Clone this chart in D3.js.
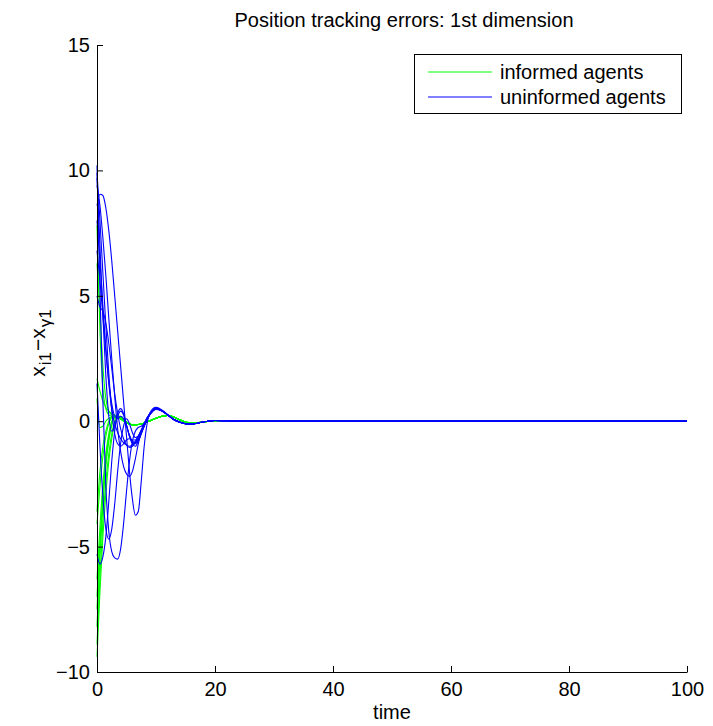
<!DOCTYPE html>
<html>
<head>
<meta charset="utf-8">
<script src="https://cdn.jsdelivr.net/npm/d3@7"></script>
<style>
  body { margin: 0; background: #fff; }
  text { font-family: "Liberation Sans", Arial, Helvetica, sans-serif; fill: #000; }
</style>
</head>
<body>
<svg id="chart" width="713" height="726"></svg>
<script>
// Sample times shared by every agent trajectory
const times = [0, 0.5, 1, 1.5, 2, 2.5, 3, 3.5, 4, 4.5, 5, 5.5, 6, 6.5, 7, 7.5, 8,
               9, 10, 11, 12, 13, 14, 15, 16, 17, 18, 19, 20, 22, 25, 30, 100];

// Tracking error x_i1 - x_gamma1 of informed agents
const informedErrors = [
  [7.8, 3.6, 1.3, 0.5, 0.25, 0.2, 0.18, 0.15, 0.08, 0.0, -0.06, -0.11, -0.14, -0.14, -0.13, -0.11, -0.07, 0.02, 0.12, 0.2, 0.23, 0.17, 0.06, -0.03, -0.07, -0.06, -0.03, 0.0, 0.02, 0.01, 0, 0, 0],
  [6.3, 4.4, 2.2, 0.9, 0.4, 0.25, 0.2, 0.17, 0.1, 0.02, -0.06, -0.11, -0.14, -0.14, -0.13, -0.11, -0.07, 0.02, 0.12, 0.2, 0.23, 0.17, 0.06, -0.03, -0.07, -0.06, -0.03, 0.0, 0.02, 0.01, 0, 0, 0],
  [1.7, 1.2, 0.8, 0.55, 0.4, 0.3, 0.24, 0.17, 0.1, 0.02, -0.06, -0.11, -0.14, -0.14, -0.13, -0.11, -0.07, 0.02, 0.12, 0.2, 0.23, 0.17, 0.06, -0.03, -0.07, -0.06, -0.03, 0.0, 0.02, 0.01, 0, 0, 0],
  [0.9, -0.25, -0.2, 0.0, 0.12, 0.18, 0.2, 0.17, 0.1, 0.02, -0.06, -0.11, -0.14, -0.14, -0.13, -0.11, -0.07, 0.02, 0.12, 0.2, 0.23, 0.17, 0.06, -0.03, -0.07, -0.06, -0.03, 0.0, 0.02, 0.01, 0, 0, 0],
  [-3.6, -2.0, -1.0, -0.4, 0.0, 0.18, 0.24, 0.2, 0.12, 0.03, -0.05, -0.11, -0.14, -0.14, -0.13, -0.11, -0.07, 0.02, 0.12, 0.2, 0.23, 0.17, 0.06, -0.03, -0.07, -0.06, -0.03, 0.0, 0.02, 0.01, 0, 0, 0],
  [-4.1, -2.6, -1.4, -0.6, -0.1, 0.15, 0.22, 0.2, 0.12, 0.03, -0.05, -0.11, -0.14, -0.14, -0.13, -0.11, -0.07, 0.02, 0.12, 0.2, 0.23, 0.17, 0.06, -0.03, -0.07, -0.06, -0.03, 0.0, 0.02, 0.01, 0, 0, 0],
  [-6.3, -4.2, -2.5, -1.3, -0.5, 0.0, 0.2, 0.22, 0.14, 0.04, -0.05, -0.11, -0.14, -0.14, -0.13, -0.11, -0.07, 0.02, 0.12, 0.2, 0.23, 0.17, 0.06, -0.03, -0.07, -0.06, -0.03, 0.0, 0.02, 0.01, 0, 0, 0],
  [-7.0, -4.8, -2.9, -1.5, -0.6, -0.05, 0.18, 0.22, 0.15, 0.05, -0.05, -0.11, -0.14, -0.14, -0.13, -0.11, -0.07, 0.02, 0.12, 0.2, 0.23, 0.17, 0.06, -0.03, -0.07, -0.06, -0.03, 0.0, 0.02, 0.01, 0, 0, 0],
  [-7.5, -5.0, -3.0, -1.6, -0.7, -0.1, 0.17, 0.22, 0.15, 0.05, -0.05, -0.11, -0.14, -0.14, -0.13, -0.11, -0.07, 0.02, 0.12, 0.2, 0.23, 0.17, 0.06, -0.03, -0.07, -0.06, -0.03, 0.0, 0.02, 0.01, 0, 0, 0],
  [-8.2, -5.4, -3.3, -1.8, -0.8, -0.15, 0.15, 0.22, 0.16, 0.06, -0.04, -0.1, -0.14, -0.14, -0.13, -0.11, -0.07, 0.02, 0.12, 0.2, 0.23, 0.17, 0.06, -0.03, -0.07, -0.06, -0.03, 0.0, 0.02, 0.01, 0, 0, 0],
  [-8.9, -6.2, -4.0, -2.4, -1.3, -0.5, 0.0, 0.2, 0.18, 0.08, -0.03, -0.1, -0.14, -0.14, -0.13, -0.11, -0.07, 0.02, 0.12, 0.2, 0.23, 0.17, 0.06, -0.03, -0.07, -0.06, -0.03, 0.0, 0.02, 0.01, 0, 0, 0],
  [-9.4, -6.8, -4.6, -2.9, -1.6, -0.7, -0.1, 0.18, 0.2, 0.1, -0.02, -0.1, -0.14, -0.14, -0.13, -0.11, -0.07, 0.02, 0.12, 0.2, 0.23, 0.17, 0.06, -0.03, -0.07, -0.06, -0.03, 0.0, 0.02, 0.01, 0, 0, 0]
];

// Tracking error x_i1 - x_gamma1 of uninformed agents
const uninformedErrors = [
  [10.2, 5.3, 0.8, -2.6, -4.4, -5.2, -5.45, -5.5, -5.1, -4.1, -2.8, -1.6, -0.8, -0.4, -0.25, -0.2, -0.1, 0.3, 0.5, 0.42, 0.24, 0.07, -0.04, -0.1, -0.12, -0.08, -0.03, 0.01, 0.03, 0.02, 0, 0, 0],
  [9.9, 8.0, 5.9, 3.8, 1.9, 0.4, -0.5, -0.9, -1.0, -0.9, -0.75, -0.7, -0.75, -0.75, -0.6, -0.4, -0.15, 0.28, 0.5, 0.43, 0.25, 0.08, -0.03, -0.1, -0.12, -0.08, -0.03, 0.01, 0.03, 0.02, 0, 0, 0],
  [8.6, 9.05, 9.0, 8.5, 7.6, 6.4, 5.0, 3.6, 2.2, 0.8, -0.6, -2.0, -3.1, -3.75, -3.6, -2.4, -1.0, 0.35, 0.55, 0.45, 0.26, 0.08, -0.03, -0.1, -0.12, -0.08, -0.03, 0.01, 0.03, 0.02, 0, 0, 0],
  [9.4, 8.6, 7.3, 5.8, 4.1, 2.5, 1.0, -0.3, -1.2, -1.8, -2.1, -2.2, -2.0, -1.5, -0.9, -0.45, -0.1, 0.32, 0.5, 0.42, 0.24, 0.07, -0.04, -0.1, -0.12, -0.08, -0.03, 0.01, 0.03, 0.02, 0, 0, 0],
  [8.0, 6.4, 4.6, 2.9, 1.5, 0.5, -0.1, -0.45, -0.7, -0.85, -0.95, -1.0, -0.95, -0.8, -0.6, -0.35, -0.1, 0.3, 0.48, 0.41, 0.24, 0.07, -0.03, -0.1, -0.12, -0.08, -0.03, 0.01, 0.03, 0.02, 0, 0, 0],
  [5.0, 4.55, 4.4, 3.9, 3.1, 2.1, 1.1, 0.3, -0.3, -0.7, -0.95, -1.05, -1.0, -0.85, -0.6, -0.35, -0.1, 0.3, 0.47, 0.41, 0.24, 0.07, -0.04, -0.1, -0.12, -0.08, -0.03, 0.01, 0.03, 0.02, 0, 0, 0],
  [1.5, -1.0, -3.0, -4.3, -4.7, -4.3, -3.3, -2.0, -0.9, -0.2, 0.1, -0.1, -0.45, -0.65, -0.6, -0.4, -0.15, 0.28, 0.48, 0.42, 0.24, 0.07, -0.03, -0.1, -0.12, -0.08, -0.03, 0.01, 0.03, 0.02, 0, 0, 0],
  [-5.3, -5.7, -5.4, -4.6, -3.2, -1.6, -0.4, 0.3, 0.5, 0.3, -0.15, -0.6, -0.9, -1.0, -0.8, -0.5, -0.2, 0.28, 0.48, 0.42, 0.25, 0.08, -0.03, -0.1, -0.12, -0.08, -0.03, 0.01, 0.03, 0.02, 0, 0, 0],
  [6.8, 5.6, 4.2, 2.8, 1.6, 0.7, 0.2, 0.1, 0.2, 0.1, -0.2, -0.55, -0.8, -0.85, -0.7, -0.45, -0.15, 0.3, 0.5, 0.42, 0.24, 0.07, -0.04, -0.1, -0.12, -0.08, -0.03, 0.01, 0.03, 0.02, 0, 0, 0],
  [9.7, 7.0, 4.2, 1.8, 0.2, -0.4, -0.2, 0.2, 0.4, 0.25, -0.15, -0.6, -0.85, -0.9, -0.75, -0.5, -0.2, 0.28, 0.49, 0.42, 0.25, 0.07, -0.04, -0.1, -0.12, -0.08, -0.03, 0.01, 0.03, 0.02, 0, 0, 0]
];

const xTicks = [0, 20, 40, 60, 80, 100];
const yTicks = [-10, -5, 0, 5, 10, 15];
const legendLabels = ["informed agents", "uninformed agents"];
const legendColors = ["#00ff00", "#0000ff"];

const chartTitle = "Position tracking errors: 1st dimension";
const xTitle = "time";

const svg = d3.select("#chart");
const frame = { left: 97, right: 687, top: 45, bottom: 672 };

const x = d3.scaleLinear().domain([0, 100]).range([frame.left, frame.right]);
const y = d3.scaleLinear().domain([-10, 15]).range([frame.bottom, frame.top]);

const line = d3.line()
  .x((d, i) => x(times[i]))
  .y(d => y(d))
  .curve(d3.curveMonotoneX);

const plot = svg.append("g");

plot.selectAll("path.informed")
  .data(informedErrors)
  .join("path")
  .attr("class", "informed")
  .attr("d", line)
  .attr("fill", "none")
  .attr("stroke", legendColors[0])
  .attr("stroke-width", 1.1);

plot.selectAll("path.uninformed")
  .data(uninformedErrors)
  .join("path")
  .attr("class", "uninformed")
  .attr("d", line)
  .attr("fill", "none")
  .attr("stroke", legendColors[1])
  .attr("stroke-width", 1.1);

// Axes: left and bottom only, ticks pointing inward
const fontSize = 20;
const xAxis = svg.append("g")
  .attr("transform", `translate(0,${frame.bottom})`)
  .call(d3.axisBottom(x).tickValues(xTicks).tickSizeInner(-6).tickSizeOuter(0).tickPadding(9));
const yAxis = svg.append("g")
  .attr("transform", `translate(${frame.left},0)`)
  .call(d3.axisLeft(y).tickValues(yTicks).tickSizeInner(-6).tickSizeOuter(0).tickPadding(7));

[xAxis, yAxis].forEach(g => {
  g.select(".domain").attr("stroke", "#000").attr("stroke-width", 1);
  g.selectAll(".tick line").attr("stroke", "#000");
  g.selectAll(".tick text")
    .attr("font-family", "'Liberation Sans', Arial, Helvetica, sans-serif")
    .attr("font-size", fontSize)
    .attr("fill", "#000");
});
xAxis.selectAll(".tick text").attr("dy", "0.75em");

// Title and axis labels
svg.append("text")
  .attr("x", 404).attr("y", 27)
  .attr("text-anchor", "middle")
  .attr("font-size", fontSize)
  .text(chartTitle);

svg.append("text")
  .attr("x", 392).attr("y", 719)
  .attr("text-anchor", "middle")
  .attr("font-size", fontSize)
  .text(xTitle);

const yLabel = svg.append("text")
  .attr("transform", "translate(45,343) rotate(-90)")
  .attr("text-anchor", "middle")
  .attr("font-size", 21);
yLabel.append("tspan").text("x");
yLabel.append("tspan").attr("dy", 6).attr("dx", 1).attr("font-size", 17).text("i1");
yLabel.append("tspan").attr("dy", -6).attr("dx", 1).text("\u2212x");
yLabel.append("tspan").attr("dy", 6).attr("dx", 1).attr("font-size", 17).text("\u03b31");

// Legend
const legend = svg.append("g");
legend.append("rect")
  .attr("x", 414.5).attr("y", 54.5)
  .attr("width", 267).attr("height", 59)
  .attr("fill", "#fff").attr("stroke", "#000");
legendLabels.forEach((label, i) => {
  const ly = 72 + i * 25;
  legend.append("line")
    .attr("x1", 428).attr("x2", 492)
    .attr("y1", ly).attr("y2", ly)
    .attr("stroke", legendColors[i]);
  legend.append("text")
    .attr("x", 500).attr("y", ly + 7)
    .attr("font-size", fontSize)
    .text(label);
});
</script>
</body>
</html>
